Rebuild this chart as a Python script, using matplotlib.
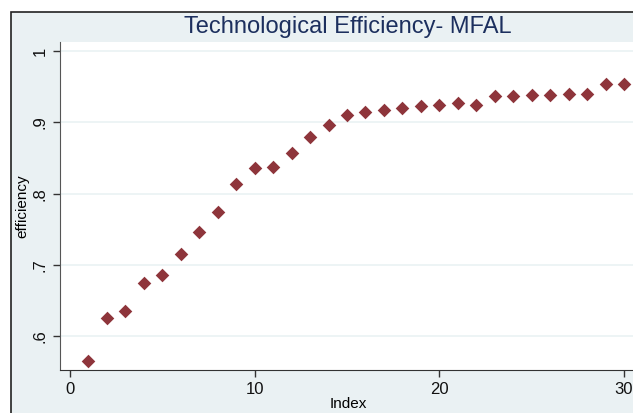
import matplotlib.pyplot as plt
from matplotlib.patches import Rectangle

# values
index = list(range(1, 31))
efficiency = [0.566, 0.626, 0.636, 0.675, 0.686, 0.716, 0.746, 0.774, 0.813, 0.836,
              0.838, 0.857, 0.880, 0.897, 0.911, 0.914, 0.918, 0.920, 0.923, 0.925,
              0.927, 0.925, 0.937, 0.937, 0.939, 0.939, 0.940, 0.940, 0.954, 0.954]
yticks = [0.6, 0.7, 0.8, 0.9, 1.0]
ytick_labels = [".6", ".7", ".8", ".9", "1"]
xticks = [0, 10, 20, 30]

W, H = 633, 413
bg = "#eaf1f3"
navy = "#1c2f5e"
marker_col = "#8e353b"

plt.rcParams['font.family'] = ['Liberation Sans', 'DejaVu Sans']

fig = plt.figure(figsize=(W / 100, H / 100), dpi=100)
fig.patch.set_facecolor("white")

# outer graph region (extends beyond the cropped right/bottom edges)
frame = Rectangle((11 / W, -0.1), 1.2, (H - 12) / H + 0.1,
                  transform=fig.transFigure, facecolor=bg,
                  edgecolor="#222222", linewidth=1.2, zorder=-5)
fig.add_artist(frame)

left, right, top, bottom = 60, 636, 42, 370
ax = fig.add_axes([left / W, 1 - bottom / H, (right - left) / W, (bottom - top) / H])
ax.set_zorder(2)
ax.set_facecolor("white")

ax.scatter(index, efficiency, marker="D", s=48, color=marker_col, linewidths=0, zorder=3)

ax.set_xlim(-0.54, 30.65)
ax.set_ylim(0.553, 1.0127)
ax.set_xticks(xticks)
ax.set_yticks(yticks)
ax.set_yticklabels(ytick_labels, rotation=90, va="center")
ax.grid(axis="y", color="#eaf2f3", linewidth=1.2)
ax.set_axisbelow(True)

for s in ["top", "right"]:
    ax.spines[s].set_visible(False)
ax.spines["left"].set_color("#555555")
ax.spines["bottom"].set_color("#333333")
ax.tick_params(direction="out", length=5, width=1, colors="#333333",
               labelcolor="#111111", labelsize=12, pad=4)

ax.set_xlabel("Index", fontsize=11, labelpad=0)
ax.set_ylabel("efficiency", fontsize=11, labelpad=2)

fig.text(348 / W, 1 - 27 / H, "Technological Efficiency- MFAL", color=navy,
         fontsize=17, ha="center", va="center", zorder=3)

fig.savefig("out.png", dpi=100, facecolor=fig.get_facecolor())
